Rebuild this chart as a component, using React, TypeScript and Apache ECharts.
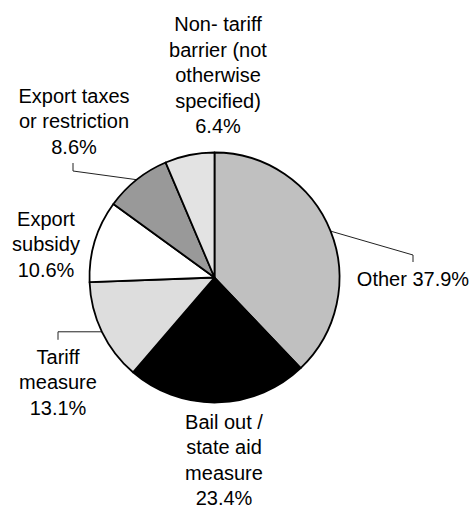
import React, { useEffect, useRef } from "react";
import * as echarts from "echarts";

const categories = [
  "Other",
  "Bail out /\nstate aid\nmeasure",
  "Tariff\nmeasure",
  "Export\nsubsidy",
  "Export taxes\nor restriction",
  "Non- tariff\nbarrier (not\notherwise\nspecified)",
];
const values = [37.9, 23.4, 13.1, 10.6, 8.6, 6.4];
const colors = ["#c0c0c0", "#000000", "#dddddd", "#ffffff", "#999999", "#e3e3e3"];
const showLine = [true, false, true, false, true, false];

// label anchor positions (layout only)
const labelPos: [number, number][] = [
  [413, 279],
  [224, 460],
  [58, 382],
  [46, 244],
  [74, 121],
  [218, 75],
];

export default function App() {
  const ref = useRef<HTMLDivElement>(null);
  useEffect(() => {
    document.body.style.margin = "0";
    const chart = echarts.init(ref.current!, undefined, { renderer: "svg" });
    chart.setOption({
      animation: false,
      backgroundColor: "#ffffff",
      series: [
        {
          type: "pie",
          center: [214.5, 277.5],
          radius: 125,
          startAngle: 90,
          clockwise: true,
          avoidLabelOverlap: false,
          itemStyle: { borderColor: "#000", borderWidth: 1.8 },
          label: {
            show: true,
            position: "outside",
            color: "#000",
            fontSize: 20,
            lineHeight: 25.5,
            fontFamily: "Liberation Sans, Arial, sans-serif",
            align: "center",
            formatter: (p: any) =>
              p.name + (p.dataIndex === 0 ? " " : "\n") + p.value.toFixed(1) + "%",
          },
          labelLine: {
            show: true,
            lineStyle: { color: "#222", width: 1 },
          },
          labelLayout: (params: any) => {
            const i = params.dataIndex;
            const [x, y] = labelPos[i];
            const res: any = { x, y, align: "center", verticalAlign: "middle" };
            const start = params.labelLinePoints ? params.labelLinePoints[0] : null;
            if (start && showLine[i]) {
              if (i === 0) {
                res.labelLinePoints = [start, [x, y - 24], [x, y - 17]];
              } else if (i === 4) {
                res.labelLinePoints = [start, [x - 1, y + 50], [x - 1, y + 42]];
              } else if (i === 2) {
                res.labelLinePoints = [start, [x, start[1]], [x, start[1] + 8]];
              }
            }
            return res;
          },
          data: categories.map((name, i) => ({
            name,
            value: values[i],
            itemStyle: { color: colors[i] },
            labelLine: { show: showLine[i] },
          })),
        },
      ],
    });
    return () => chart.dispose();
  }, []);
  return <div ref={ref} style={{ width: 472, height: 508 }} />;
}
